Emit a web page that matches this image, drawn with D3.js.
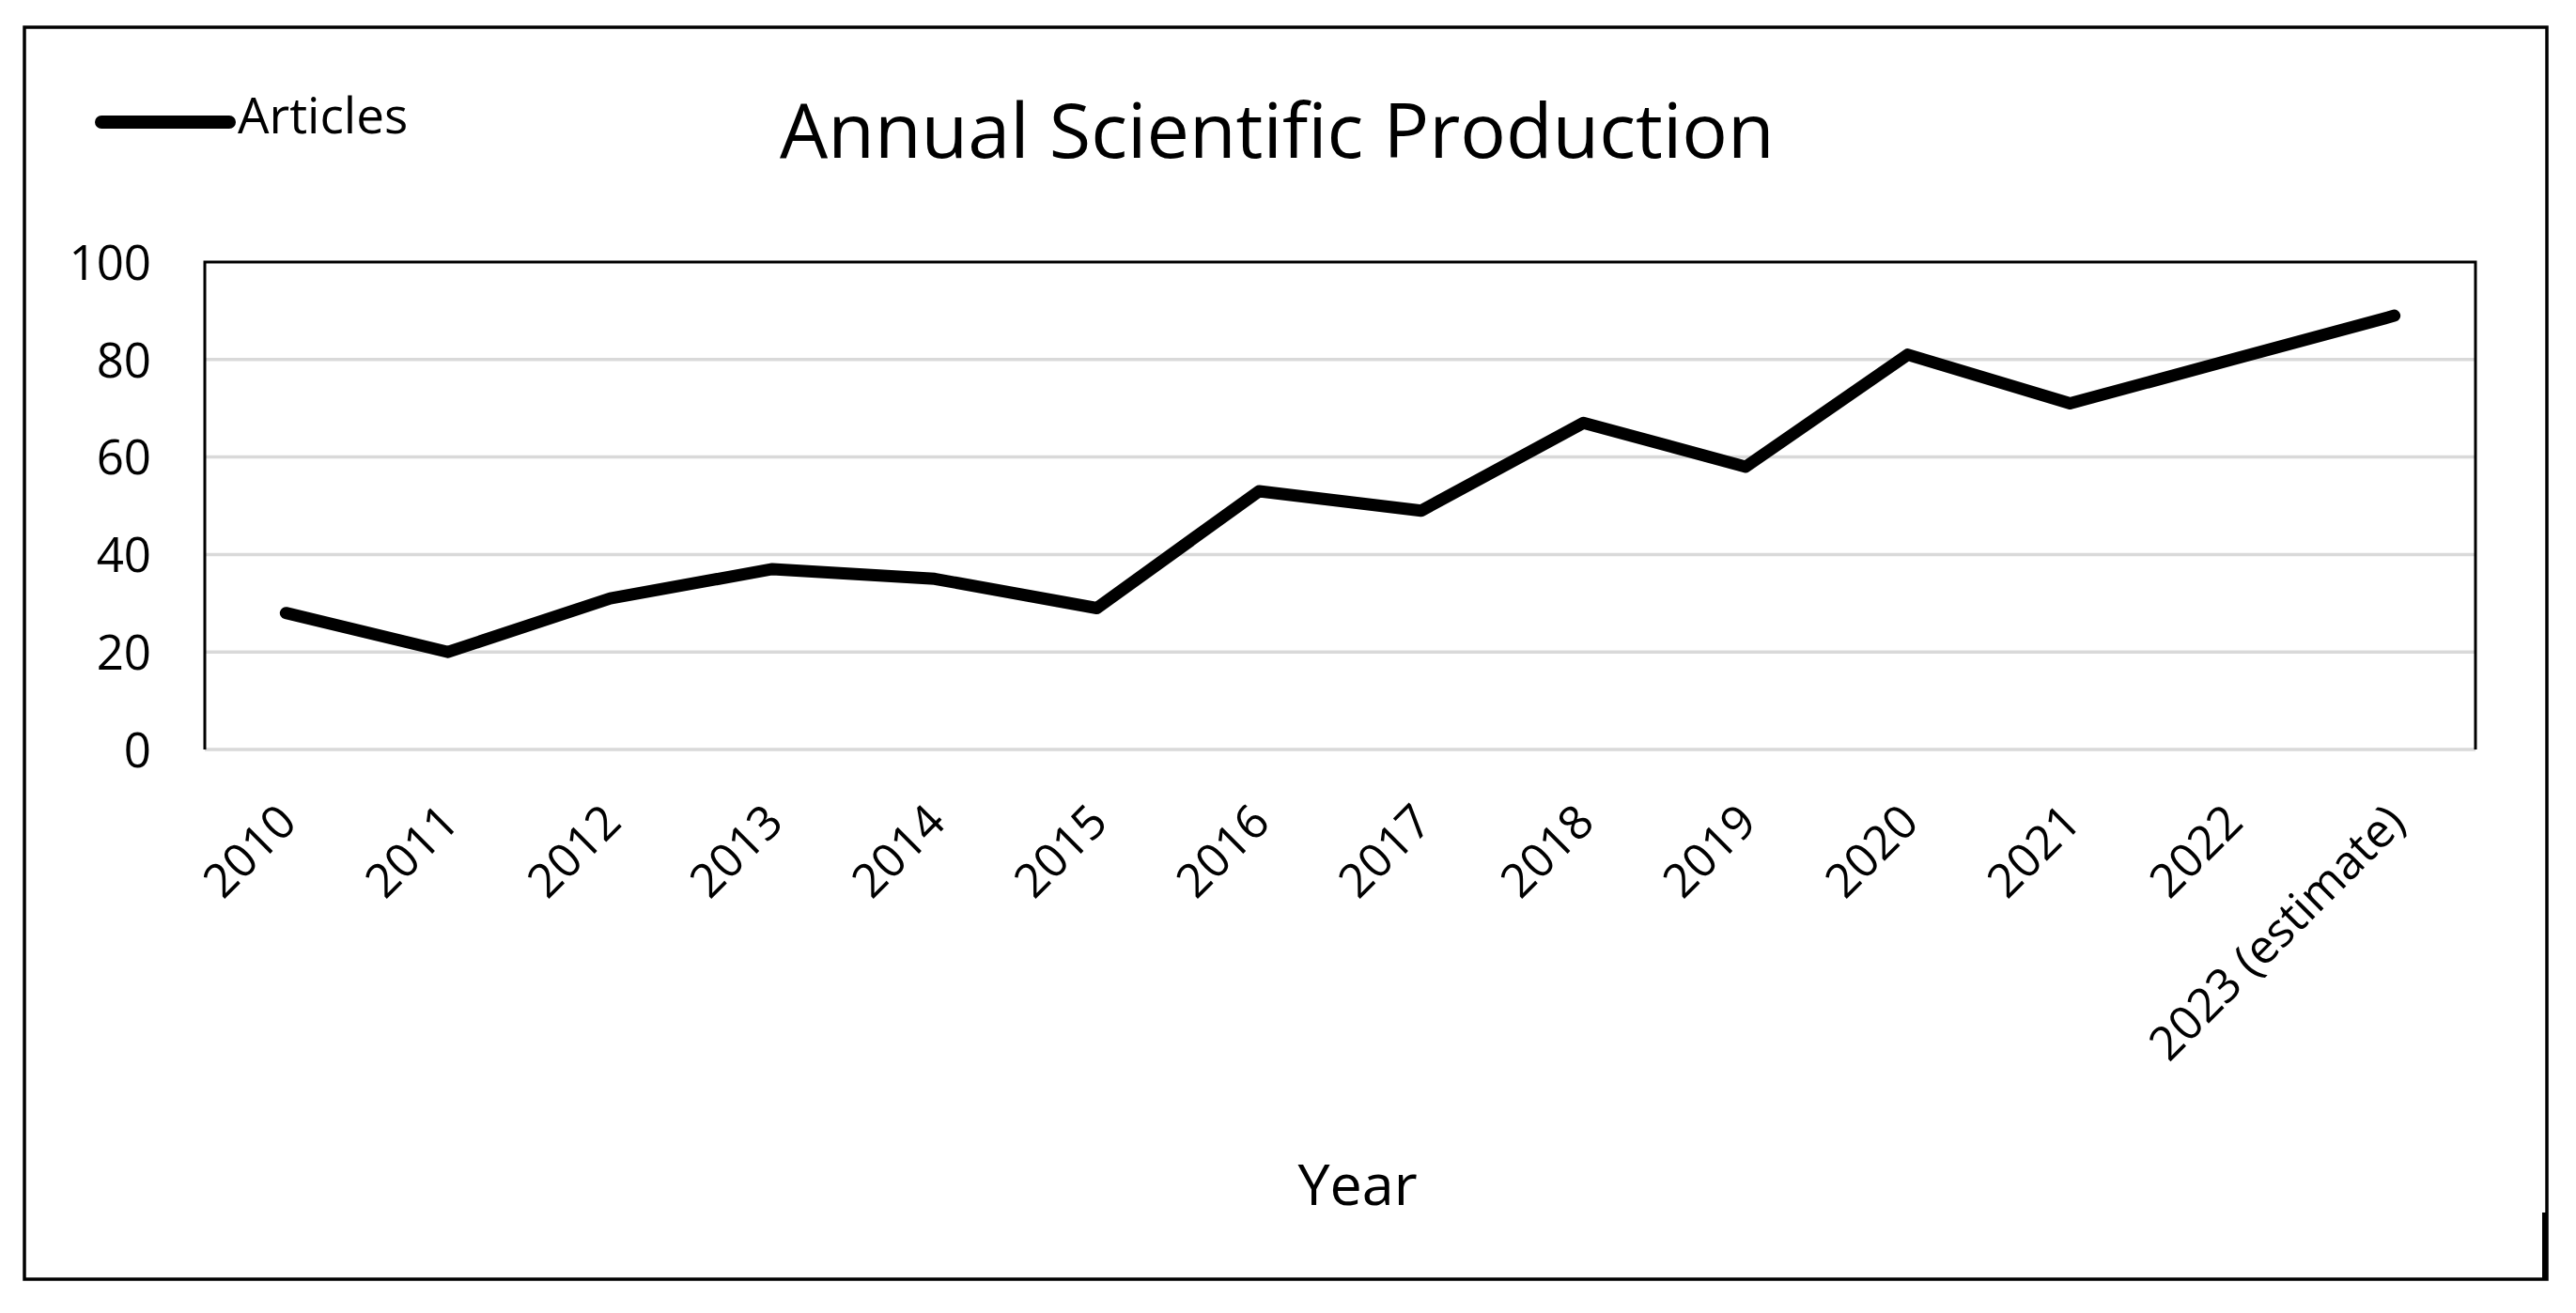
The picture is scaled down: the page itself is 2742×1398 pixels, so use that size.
<!DOCTYPE html>
<html>
<head>
<meta charset="utf-8">
<script src="https://cdn.jsdelivr.net/npm/d3@7"></script>
<style>
  html, body { margin: 0; padding: 0; background: #fff; }
  svg { display: block; }
  text { font-family: "Open Sans", Lato, sans-serif; fill: #000; }
</style>
</head>
<body>
<svg id="chart" width="2742" height="1398"></svg>
<script>
const years = ["2010","2011","2012","2013","2014","2015","2016","2017","2018","2019","2020","2021","2022","2023 (estimate)"];
const articles = [28, 20, 31, 37, 35, 29, 53, 49, 67, 58, 81, 71, 80, 89];
const yTicks = [0, 20, 40, 60, 80, 100];
const titleText = "Annual Scientific Production";
const seriesName = "Articles";
const xTitle = "Year";

const FONT = "'Open Sans', Lato, sans-serif";
const svg = d3.select("#chart");
const plot = { left: 218, right: 2635, top: 279, bottom: 798 };

// outer frame
svg.append("rect").attr("x", 26).attr("y", 29).attr("width", 2685).attr("height", 1333)
  .attr("fill", "#fff").attr("stroke", "#000").attr("stroke-width", 3.5);
svg.append("line").attr("x1", 2709).attr("x2", 2709).attr("y1", 1291).attr("y2", 1363)
  .attr("stroke", "#000").attr("stroke-width", 6);

const x = d3.scaleBand().domain(years).range([plot.left, plot.right]).paddingInner(0).paddingOuter(0);
const y = d3.scaleLinear().domain([0, 100]).range([plot.bottom, plot.top]);

// gridlines
svg.append("g").selectAll("line").data(yTicks.filter(d => d < 100)).join("line")
  .attr("x1", plot.left).attr("x2", plot.right)
  .attr("y1", d => y(d)).attr("y2", d => y(d))
  .attr("stroke", "#d9d9d9").attr("stroke-width", 3.5);

// plot border: top, left, right
svg.append("path")
  .attr("d", `M${plot.left},${y(0)} L${plot.left},${y(100)} L${plot.right},${y(100)} L${plot.right},${y(0)}`)
  .attr("fill", "none").attr("stroke", "#000").attr("stroke-width", 3);

// y axis labels
const yAxis = d3.axisLeft(y).tickValues(yTicks).tickSize(0).tickPadding(0);
const gy = svg.append("g").attr("transform", `translate(161,0)`).call(yAxis);
gy.select(".domain").remove();
gy.selectAll("text").attr("font-size", 51).attr("font-family", FONT).attr("fill", "#000").attr("dy", "0.36em");

// x axis labels
const xAxis = d3.axisBottom(x).tickSize(0).tickPadding(0);
const gx = svg.append("g").attr("transform", `translate(0,${plot.bottom})`).call(xAxis);
gx.select(".domain").remove();
gx.selectAll(".tick text")
  .attr("font-size", 50).attr("font-family", FONT).attr("fill", "#000")
  .attr("text-anchor", "end")
  .attr("dy", 0).attr("y", 0)
  .attr("transform", "translate(14,80) rotate(-45)");

// line
const line = d3.line().x((d, i) => x(years[i]) + x.bandwidth() / 2).y(d => y(d));
svg.append("path").datum(articles)
  .attr("d", line)
  .attr("fill", "none").attr("stroke", "#000").attr("stroke-width", 13)
  .attr("stroke-linejoin", "round").attr("stroke-linecap", "round");

// title
svg.append("text").attr("x", 830).attr("y", 168).attr("font-size", 81).text(titleText);

// legend
svg.append("line").attr("x1", 108).attr("x2", 244).attr("y1", 130).attr("y2", 130)
  .attr("stroke", "#000").attr("stroke-width", 14).attr("stroke-linecap", "round");
svg.append("text").attr("x", 253).attr("y", 142).attr("font-size", 53).text(seriesName);

// x axis title
svg.append("text").attr("x", 1445).attr("y", 1283).attr("text-anchor", "middle").attr("font-size", 61).text(xTitle);
</script>
</body>
</html>
